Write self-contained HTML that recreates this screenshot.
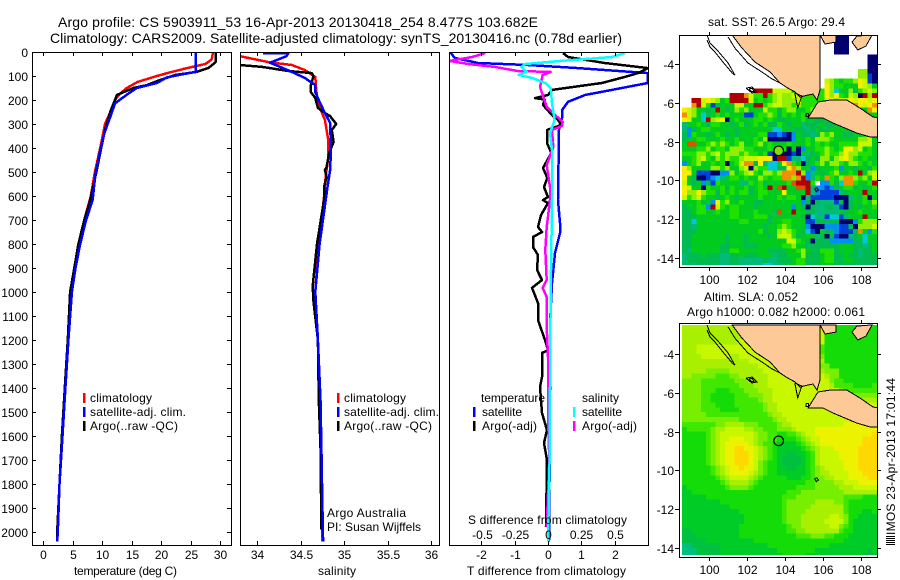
<!DOCTYPE html>
<html>
<head>
<meta charset="utf-8">
<title>Argo profile</title>
<style>
html,body{margin:0;padding:0;background:#fff;width:900px;height:580px;overflow:hidden}
svg{display:block}
text{font-family:"Liberation Sans",sans-serif;font-size:12px;fill:#000}
</style>
</head>
<body>
<svg id="page" xmlns="http://www.w3.org/2000/svg" width="900" height="580" viewBox="0 0 900 580">
<defs>
<clipPath id="clip-p1"><rect x="32" y="52" width="199" height="493"/></clipPath>
<clipPath id="clip-p2"><rect x="240" y="52" width="199" height="493"/></clipPath>
<clipPath id="clip-p3"><rect x="449" y="52" width="199" height="493"/></clipPath>
<clipPath id="clip-m1"><rect x="679" y="35" width="198" height="230"/></clipPath>
<clipPath id="clip-m2"><rect x="679" y="323" width="198" height="232"/></clipPath>
<clipPath id="clip-m1f"><rect x="679" y="35" width="198" height="232"/></clipPath>
<clipPath id="clip-m2f"><rect x="679" y="323" width="198" height="234"/></clipPath>
</defs>
<rect width="900" height="580" fill="#fff"/>
<text x="58" y="27" style="font-size:14px" textLength="480" lengthAdjust="spacing">Argo profile: CS 5903911_53 16-Apr-2013 20130418_254 8.477S 103.682E</text>
<text x="50" y="43" style="font-size:14px" textLength="572" lengthAdjust="spacing">Climatology: CARS2009. Satellite-adjusted climatology: synTS_20130416.nc (0.78d earlier)</text>
<g id="plots"></g>
<g id="maps"></g>

<text x="74" y="575" textLength="103" lengthAdjust="spacing">temperature (deg C)</text>
<text x="318" y="575" textLength="38" lengthAdjust="spacing">salinity</text>
<text x="467" y="575" textLength="159" lengthAdjust="spacing">T difference from climatology</text>
<text x="468" y="524" textLength="159" lengthAdjust="spacing">S difference from climatology</text>

<g>
<rect x="83" y="393" width="2.5" height="10" fill="#ff0000"/>
<rect x="83" y="407" width="2.5" height="10" fill="#0000ff"/>
<rect x="83" y="421" width="2.5" height="10" fill="#000"/>
<text x="90" y="402" textLength="62" lengthAdjust="spacing">climatology</text>
<text x="90" y="416" textLength="96" lengthAdjust="spacing">satellite-adj. clim.</text>
<text x="90" y="430" textLength="88" lengthAdjust="spacing">Argo(..raw -QC)</text>
</g>
<g>
<rect x="337" y="393" width="2.5" height="10" fill="#ff0000"/>
<rect x="337" y="407" width="2.5" height="10" fill="#0000ff"/>
<rect x="337" y="421" width="2.5" height="10" fill="#000"/>
<text x="344" y="402" textLength="62" lengthAdjust="spacing">climatology</text>
<text x="344" y="416" textLength="95" lengthAdjust="spacing">satellite-adj. clim.</text>
<text x="344" y="430" textLength="88" lengthAdjust="spacing">Argo(..raw -QC)</text>
<text x="327" y="517" textLength="79" lengthAdjust="spacing">Argo Australia</text>
<text x="327" y="531" textLength="94" lengthAdjust="spacing">PI: Susan Wijffels</text>
</g>
<g>
<text x="481" y="402" textLength="64" lengthAdjust="spacing">temperature</text>
<text x="582" y="402" textLength="37" lengthAdjust="spacing">salinity</text>
<rect x="473" y="407" width="2.5" height="10" fill="#0000ff"/>
<rect x="473" y="421" width="2.5" height="10" fill="#000"/>
<rect x="573" y="407" width="2.5" height="10" fill="#00ffff"/>
<rect x="573" y="421" width="2.5" height="10" fill="#ff00ff"/>
<text x="482" y="416" textLength="40" lengthAdjust="spacing">satellite</text>
<text x="482" y="430" textLength="55" lengthAdjust="spacing">Argo(-adj)</text>
<text x="582" y="416" textLength="40" lengthAdjust="spacing">satellite</text>
<text x="582" y="430" textLength="55" lengthAdjust="spacing">Argo(-adj)</text>
</g>

<text x="708" y="26" textLength="137" lengthAdjust="spacing">sat. SST: 26.5 Argo: 29.4</text>
<text x="704" y="301" textLength="94" lengthAdjust="spacing">Altim. SLA: 0.052</text>
<text x="687" y="316" textLength="178" lengthAdjust="spacing">Argo h1000: 0.082 h2000: 0.061</text>
<g stroke="#000" stroke-width="1" shape-rendering="crispEdges">
<path d="M886 536.5H895M886 538.5H895M886 540.5H895M886 542.5H895M886 544.5H895" fill="none"/>
</g>
<text transform="translate(895 535) rotate(-90)" x="0" y="0" textLength="157" lengthAdjust="spacing">IMOS 23-Apr-2013 17:01:44</text>
</svg>

<script>
/* ---------- axis tick values ---------- */
const depthTicks = [0,100,200,300,400,500,600,700,800,900,1000,1100,1200,1300,1400,1500,1600,1700,1800,1900,2000];
const tempTicks = [0,5,10,15,20,25,30];
const salTicks = [34,34.5,35,35.5,36];
const tDiffTicks = [-2,-1,0,1,2];
const sDiffTicks = [-0.5,-0.25,0,0.25,0.5];
const lonTicks = [100,102,104,106,108];
const latTicks = [-4,-6,-8,-10,-12,-14];

/* ---------- temperature panel ---------- */
const tempClimDepth = [0,20,33,50,67,85,100,125,150,175,200,250,300,400,500,600,700,800,900,1000,1200,1400,1600,1800,2000,2040];
const tempClim = [28.8,28.7,28.5,27.5,24.4,21.5,19.3,16,14.2,13,12.2,11.4,10.5,9.7,8.8,8.1,7,6.1,5.4,4.8,4.3,3.8,3.3,2.8,2.5,2.4];
const tempSatDepth = [0,83,92,106,129,150,178,214,270,338,422,505,617,700,800,900,1000,1200,1400,1600,1800,2000,2040];
const tempSat = [25.9,25.9,23.8,21,19.3,15.9,14.2,12.2,11.4,10.4,9.6,8.9,8.4,7.3,6.3,5.5,4.9,4.3,3.8,3.3,2.8,2.5,2.4];
const tempArgoDepth = [0,40,46,67,83,96,117,138,150,179,200,242,325,408,505,617,700,800,900,1000,1200,1400,1600,1800,2000,2040];
const tempArgo = [29.3,29.3,29.1,28,26,22.4,19.8,17.6,15.3,12.5,12.2,11.5,10.5,9.8,9,8,7,6,5.3,4.6,4.2,3.7,3.2,2.8,2.4,2.4];

/* ---------- salinity panel ---------- */
const salClimDepth = [17,42,54,75,104,158,213,283,367,437,520,604,800,1000,1200,1450,1650,1870,2040];
const salClim = [33.8,34.13,34.4,34.55,34.67,34.68,34.7,34.78,34.82,34.82,34.79,34.77,34.71,34.67,34.7,34.71,34.735,34.75,34.75];
const salSatDepth = [4,4,17,45,58,83,108,138,167,208,254,296,408,492,563,617,800,1000,1200,1450,1650,1870,2040];
const salSat = [34.07,34.36,34.34,34.15,34.24,34.4,34.55,34.67,34.67,34.72,34.78,34.84,34.85,34.84,34.81,34.79,34.72,34.67,34.7,34.73,34.74,34.75,34.76];
const salArgoDepth = [54,62,79,88,100,138,167,192,233,254,267,300,325,375,421,479,492,520,563,617,800,975,1040,1200,1450,1650,1990];
const salArgo = [33.8,34.06,34.36,34.63,34.65,34.62,34.62,34.67,34.7,34.78,34.84,34.91,34.86,34.88,34.83,34.8,34.78,34.8,34.77,34.77,34.69,34.64,34.65,34.7,34.71,34.73,34.74];

/* ---------- difference panel ---------- */
const tDiffSatDepth = [0,25,46,54,67,88,129,158,179,208,242,275,325,617,713,754,838,963,1129,1271,1408,1700,2040];
const tDiffSat = [-2.94,-2.8,-2.1,-0.6,0.9,3,3,1.92,1.11,0.6,0.42,0.42,0.33,0.3,0.36,0.36,0.21,0.12,0.06,0.06,0.06,0.05,0.03];
const tDiffArgoDepth = [4,21,46,67,88,104,129,158,179,192,198,221,263,283,304,325,379,421,483,525,563,604,617,629,679,729,750,771,813,846,908,950,983,1046,1117,1200,1242,1254,1354,1396,1504,1575,1629,1700,1979];
const tDiffArgo = [0.45,0.6,1.7,3,2.7,2.3,1.62,0.12,0,-0.39,-0.1,-0.15,0.12,0.3,0.4,-0.03,-0.03,0.1,-0.15,-0.02,-0.12,0,-0.15,0,-0.21,-0.3,-0.18,-0.45,-0.45,-0.3,-0.33,-0.18,-0.48,-0.3,-0.3,-0.09,0,-0.18,-0.18,-0.24,-0.18,-0.03,-0.12,-0.03,-0.06];
const sDiffSatDepth = [4,21,37,50,62,83,96,108,129,150,213,283,338,408,617,1000,1400,1700,2040];
const sDiffSat = [0.58,0.48,0.1,-0.17,-0.2,-0.16,-0.22,-0.12,-0.02,0.02,0.03,0.05,0.015,0.03,0.03,0.02,0.015,0.012,0];
const sDiffArgoDepth = [4,21,37,50,62,79,83,96,146,179,229,250,292,308,325,396,471,563,617,729,825,950,983,1021,1146,1271,1500,1700,1980];
const sDiffArgo = [-0.47,-0.57,-0.74,-0.6,-0.4,-0.23,0.02,-0.04,-0.06,-0.04,-0.01,0.03,0.11,0.105,0.03,0.04,-0.01,0.015,0.015,-0.01,-0.02,-0.01,-0.04,-0.01,-0.01,0,0,0.01,-0.01];

/* ---------- SST grid: one character per cell, '.' = no data, 0-d = colour level ---------- */
const sstRows = [
".......... .......... .......... ..000..... .",
".......... .......... .......... ..000..... .",
".......... .......... .......... ..000..... .",
".......... .......... .......... ..000..... .",
".......... .......... .......... .........0 0",
".......... .......... .......... .........0 0",
".......... .......... .......... .........0 0",
".......... .......... .......... .......880 0",
".......... .......... .......... .......881 0",
".......... .......... .......... 9876778a91 0",
".......... .......... .......... a877666a98 6",
".......... .....dddd9 9997777777 a836685789 8",
".......... dddb977d78 9889977777 a8a76980d8 d",
"..dd9a9867 dddd967678 9888977777 9a899a9aa9 a",
"..bd971566 69966dd789 9887877777 9a9a99ba9a b",
"a986656d65 6878666977 5788667877 776666666b a",
"b986356767 6661167787 5767676766 6666666666 6",
"a9663d89a0 6766677676 5566676655 6666666666 6",
"4667657766 5675676755 7656645556 5566666666 6",
"4256776666 6566666663 3665554565 5666666666 6",
"5276656765 6566667711 2102655458 7866556677 7",
"5667766676 6766676800 0002667688 8766666889 6",
"6cc6678787 6786678676 6676667676 7667777999 6",
"6667786776 8887766676 6706026677 8767aa8967 6",
"7778878978 8878776710 0001064567 8778a88777 6",
"6678976878 778999aaa0 dd14435658 8689a87676 6",
"2678667670 679bb5a433 6ab7605678 6887688767 6",
"a866668878 6689087733 55ab866256 6672665665 7",
"aa61110022 8678976887 8bbbd82465 6786676d68 9",
"a650012346 7767668767 7bb8bd2476 b768bb8786 9",
"9656251766 6644767566 667cddd7.2 2753bb7667 d",
"a966076675 76675676d6 cd66ccd422 1256775656 7",
"a88a877576 7677567766 6a6666d421 11145666d6 6",
"9789766567 6566667666 7677604111 1100046570 6",
"6667562a78 6676655666 6666625054 4415056676 8",
"566772d976 7766656666 6662650544 5541056566 7",
"5567766766 7766676665 c66d665544 4446566766 6",
"5556666666 7766677756 6666650344 13314666d6 6",
"5536666666 6677666656 6776661155 5550002788 8",
"5546666666 6666666566 7876662000 2221150888 9",
"5556666666 6666667566 8987653106 5521115b62 7",
"5566666665 6665666656 9997566645 0510045636 6",
"5566666665 6665666666 6699765055 5222225536 6",
"5566666655 6665556666 6778665555 5556665545 6",
"5466666655 7766666655 5566786557 7756665455 6",
"4555655544 5565556664 5566685556 7755655455 5",
"4555555544 5544444544 5556775556 7755665555 5",
"5545555544 5544444334 4566775556 6655555555 5"
];

/* ---------- sea-level anomaly grid: 0 (low) ... 9 (high) ---------- */
const slaRows = [
"6666666666 6666677777 7777777777 3333333333 3",
"6666666666 6666677777 7777777777 3333333333 3",
"6666666666 6667777777 7777777777 3333333333 3",
"6666666666 6677777777 7777777777 3333333333 3",
"6667777777 7777777777 7777777774 3333333333 3",
"6667777777 7777777777 7777777774 3333333333 3",
"6666777777 6677777777 7777777775 3333333333 3",
"6666666666 6666777777 7777777776 3333333333 3",
"6666666666 6666667777 7777777775 5333333333 3",
"6666655555 6666666777 7777777776 5553333333 3",
"6655555444 5566666677 7777777777 6553333333 3",
"5555444444 4555666677 7777777777 7544333333 3",
"5555444444 4455566677 7777777777 7644443333 4",
"5555444333 4445556667 7777777777 7775444444 4",
"5555443333 3444555667 7777777777 7776555555 5",
"5555443333 3444445667 7777777777 7777766666 6",
"5555444333 3444444566 7777777777 7777777777 7",
"5555444433 3344444566 7777777777 7777777777 7",
"5555544444 4444444456 6777777777 7777777777 7",
"5555555555 5544444445 6677777777 7777777777 8",
"4444444556 6665554444 5667777777 7777888888 8",
"3444445667 7776655444 5556777788 8888888888 8",
"3333345677 7777765544 3344567788 8888888888 9",
"3333345677 8887765544 3333456778 8888888899 9",
"3333345678 8888765443 2222345678 8888888899 9",
"3333345678 8998876543 2222234567 7788888999 9",
"3333345678 8999876543 2211223467 7778888999 9",
"3333345678 8999876543 2111123467 7778888999 9",
"3333345678 8999875433 2111123467 7777888999 9",
"3333334567 8898875433 2211223456 7777888999 9",
"3333334567 8888765433 2222223456 6777788899 9",
"3333333456 7777654333 3322233455 6677788889 9",
"3333333345 6666543333 3333334455 5566777888 8",
"2333333334 5555433333 3333444455 5556667777 7",
"2233333333 3333333333 3344455555 5555666666 6",
"2222233333 3333333333 3444555555 5555444433 3",
"2222222233 3333333333 3455555566 6655433333 3",
"2222222222 3333333333 3455555666 6666433333 3",
"2222222222 2233333333 3455556666 6666433322 3",
"2222222222 2223333333 3455566666 6776533222 2",
"2222222222 2223333333 3455566666 7777532222 2",
"2222222222 2233333333 3345566666 6775432222 2",
"1122222222 2233333333 3344556666 6664332222 2",
"1112222222 2233333333 3333444555 4433322222 2",
"1111122222 2222233333 3333333333 3333222222 2",
"0011111122 2222222233 3333333333 3222222222 2",
"0001111122 2222222222 3333333322 2222222221 2",
"0001111122 2222222222 2333332222 2222222211 1"
];

/* ---------- geography (longitude, latitude) ---------- */
const sumatraLon = [101.23,101.75,102.44,103.23,103.75,104.17,104.54,104.81,105.23,105.49,105.7,105.86,105.86];
const sumatraLat = [-2.5,-3.18,-3.9,-4.41,-4.98,-5.24,-5.44,-5.7,-5.6,-5.55,-5.86,-5.34,-2.5];
const javaLon = [105.75,106.38,107.28,107.96,108.65,108.9,108.9,108.49,107.8,106.54,106.01,105.23];
const javaLat = [-5.96,-5.86,-5.86,-6.27,-6.73,-6.78,-7.76,-7.76,-7.56,-7.04,-6.78,-6.78];
const bangkaLon = [105.86,106.12,106.7,106.7];
const bangkaLat = [-2.5,-2.97,-2.87,-2.5];
const belitungLon = [107.54,107.8,108.6,108.28,107.85];
const belitungLat = [-2.87,-2.56,-2.5,-3.07,-3.28];
const mentawaiLon = [99.91,100.07,100.44,100.75,101.02,101.38,101.23,100.75,100.33,100.07,99.91];
const mentawaiLat = [-2.5,-2.92,-3.28,-3.64,-3.95,-4.57,-4.46,-3.9,-3.38,-3.12,-2.76];
const shelfLon = [101.02,101.38,102.07,102.8,103.33,103.75];
const shelfLat = [-2.61,-3.18,-3.95,-4.41,-4.77,-4.98];
const enggano1Lon = [101.96,102.28,102.54,102.28,101.96];
const enggano1Lat = [-5.24,-5.19,-5.44,-5.49,-5.24];
const enggano2Lon = [102.12,102.28,102.4,102.24,102.12];
const enggano2Lat = [-5.28,-5.27,-5.4,-5.42,-5.28];
const straitLon = [104.53,104.69,104.9,104.53];
const straitLat = [-5.49,-6.27,-5.65,-5.49];
const christmasLon = [105.58,105.7,105.78,105.66,105.58];
const christmasLat = [-10.42,-10.38,-10.5,-10.58,-10.42];
const krakatoaLon = [105.12,105.24,105.24,105.12,105.12];
const krakatoaLat = [-6.55,-6.55,-6.7,-6.7,-6.55];
const probeLon = [103.682];
const probeLat = [-8.477];

/* ---------- colour scales ---------- */
const sstPalette = {'0':'#00006e','1':'#0040d8','2':'#0090f0','3':'#00c8d8','4':'#00bc78','5':'#00bc50','6':'#00cc20','7':'#20e000','8':'#90ee00','9':'#c8f800','a':'#f8ee00','b':'#f09000','c':'#e05000','d':'#b00000'};
const slaPalette = {'0':'#00c080','1':'#00c040','2':'#00cc28','3':'#14dc08','4':'#40e800','5':'#78ee00','6':'#a8f000','7':'#c8f800','8':'#ecf200','9':'#ffd800'};

/* ---------- axis functions ---------- */
const depthY = function (d) { return 52 + d * 0.24; };
const tempX = function (t) { return 43 + t * 5.9; };
const salX = function (s) { return 257 + (s - 34) * 87; };
const tDiffX = function (v) { return 548 + v * 33.3; };
const sDiffX = function (v) { return 548 + v * 133; };
const lonX = function (lon) { return 708.7 + (lon - 100) * 19; };
const latY1 = function (lat) { return 64 + (-4 - lat) * 19.4; };
const latY2 = function (lat) { return 354 + (-4 - lat) * 19.4; };

const NS = 'http://www.w3.org/2000/svg';
function mk(tag, parent, attrs) {
  const el = document.createElementNS(NS, tag);
  for (const k in attrs) el.setAttribute(k, attrs[k]);
  parent.appendChild(el);
  return el;
}
function frame(parent, x, y, w, h, name) {
  const el = mk('rect', parent, {x: x + 0.5, y: y + 0.5, width: w, height: h, fill: 'none', stroke: '#000', 'stroke-width': 1, 'shape-rendering': 'crispEdges'});
  
  
  return el;
}
function tick(parent, x1, y1, x2, y2) {
  const el = mk('line', parent, {x1: x1, y1: y1, x2: x2, y2: y2, stroke: '#000', 'stroke-width': 1, 'shape-rendering': 'crispEdges'});
  
  
}
function label(parent, x, y, str, anchor) {
  const el = mk('text', parent, {x: x, y: y, 'text-anchor': anchor});
  el.textContent = str;
  
  
}
function series(parent, xs, ys, color, width, clip, name) {
  const pts = xs.map(function (x, i) { return x.toFixed(1) + ',' + ys[i].toFixed(1); }).join(' ');
  const el = mk('polyline', parent, {points: pts, fill: 'none', stroke: color, 'stroke-width': width, 'stroke-linejoin': 'round', 'clip-path': 'url(#' + clip + ')', 'shape-rendering': 'crispEdges'});
  
  
}

/* ---------- profile panels ---------- */
const plots = document.getElementById('plots');
const panelLefts = [32, 240, 449];
const panelNames = ['temperature-panel-frame', 'salinity-panel-frame', 'difference-panel-frame'];

series(plots, tempClim.map(tempX), tempClimDepth.map(depthY), '#ff0000', 2.5, 'clip-p1', 'temperature-climatology-line');
series(plots, tempArgo.map(tempX), tempArgoDepth.map(depthY), '#000', 2.5, 'clip-p1', 'temperature-argo-line');
series(plots, tempSat.map(tempX), tempSatDepth.map(depthY), '#0000ff', 2.5, 'clip-p1', 'temperature-satellite-line');

series(plots, salClim.map(salX), salClimDepth.map(depthY), '#ff0000', 2.5, 'clip-p2', 'salinity-climatology-line');
series(plots, salArgo.map(salX), salArgoDepth.map(depthY), '#000', 2.5, 'clip-p2', 'salinity-argo-line');
series(plots, salSat.map(salX), salSatDepth.map(depthY), '#0000ff', 2.5, 'clip-p2', 'salinity-satellite-line');

series(plots, tDiffSat.map(tDiffX), tDiffSatDepth.map(depthY), '#0000ff', 2.5, 'clip-p3', 'difference-t-satellite-line');
series(plots, tDiffArgo.map(tDiffX), tDiffArgoDepth.map(depthY), '#000', 2.5, 'clip-p3', 'difference-t-argo-line');
series(plots, sDiffArgo.map(sDiffX), sDiffArgoDepth.map(depthY), '#ff00ff', 2.5, 'clip-p3', 'difference-s-argo-line');
series(plots, sDiffSat.map(sDiffX), sDiffSatDepth.map(depthY), '#00ffff', 2.5, 'clip-p3', 'difference-s-satellite-line');

panelLefts.forEach(function (x, i) { frame(plots, x, 52, 199, 493, panelNames[i]); });

depthTicks.forEach(function (d) {
  const y = Math.round(depthY(d)) + 0.5;
  tick(plots, 32, y, 36, y);
  tick(plots, 227, y, 231, y);
  label(plots, 28, y + 4.5, String(d), 'end');
});
function xTicks(values, fn, fmt, labelY) {
  values.forEach(function (v) {
    const x = Math.round(fn(v)) + 0.5;
    tick(plots, x, 52, x, 56);
    tick(plots, x, 541, x, 545);
    if (labelY) label(plots, x, labelY, fmt(v), 'middle');
  });
}
xTicks(tempTicks, tempX, String, 559);
xTicks(salTicks, salX, String, 559);
xTicks(tDiffTicks, tDiffX, String, 559);
sDiffTicks.forEach(function (v) {
  label(plots, Math.round(sDiffX(v)) + 0.5, 539, String(v), 'middle');
});

/* ---------- maps ---------- */
const maps = document.getElementById('maps');
function heatmap(rows, palette, latY, clip, name) {
  const g = mk('g', maps, {'clip-path': 'url(#' + clip + ')', 'shape-rendering': 'crispEdges'});
  
  
  rows.forEach(function (row, r) {
    const chars = row.replace(/ /g, '');
    const y0 = latY(-2.5 - 0.25 * r);
    const y1 = latY(-2.5 - 0.25 * (r + 1));
    for (let c = 0; c < chars.length; c++) {
      const ch = chars[c];
      if (ch === '.') continue;
      const x0 = lonX(98.6 + 0.25 * c);
      const x1 = lonX(98.6 + 0.25 * (c + 1));
      const cell = mk('rect', g, {x: x0.toFixed(2), y: y0.toFixed(2), width: (x1 - x0 + 0.4).toFixed(2), height: (y1 - y0 + 0.4).toFixed(2), fill: palette[ch]});
      
      
    }
  });
}
function land(lons, lats, latY, clip, name) {
  const pts = lons.map(function (lon, i) { return lonX(lon).toFixed(1) + ',' + latY(lats[i]).toFixed(1); }).join(' ');
  const el = mk('polygon', maps, {points: pts, fill: '#fdc996', stroke: '#000', 'stroke-width': 1, 'clip-path': 'url(#' + clip + ')', 'shape-rendering': 'crispEdges'});
  
  
}
function coast(lons, lats, latY, clip, name) {
  const pts = lons.map(function (lon, i) { return lonX(lon).toFixed(1) + ',' + latY(lats[i]).toFixed(1); }).join(' ');
  const el = mk('polyline', maps, {points: pts, fill: 'none', stroke: '#000', 'stroke-width': 1, 'clip-path': 'url(#' + clip + ')', 'shape-rendering': 'crispEdges'});
  
  
}
function drawMap(rows, palette, latY, clipData, clipFrame, frameY, frameH, probeFill, prefix) {
  heatmap(rows, palette, latY, clipData, prefix + '-heatmap');
  land(sumatraLon, sumatraLat, latY, clipFrame, prefix + '-sumatra-land');
  land(javaLon, javaLat, latY, clipFrame, prefix + '-java-land');
  land(bangkaLon, bangkaLat, latY, clipFrame, prefix + '-bangka-land');
  land(belitungLon, belitungLat, latY, clipFrame, prefix + '-belitung-land');
  coast(mentawaiLon, mentawaiLat, latY, clipFrame, prefix + '-mentawai-coast');
  coast(shelfLon, shelfLat, latY, clipFrame, prefix + '-sumatra-outer-coast');
  coast(enggano1Lon, enggano1Lat, latY, clipFrame, prefix + '-enggano-coast');
  coast(enggano2Lon, enggano2Lat, latY, clipFrame, prefix + '-enggano-inner-coast');
  coast(straitLon, straitLat, latY, clipFrame, prefix + '-strait-coast');
  coast(christmasLon, christmasLat, latY, clipFrame, prefix + '-christmas-island-coast');
  coast(krakatoaLon, krakatoaLat, latY, clipFrame, prefix + '-krakatoa-coast');
  probeLon.forEach(function (lon, i) {
    const marker = mk('circle', maps, {cx: lonX(lon), cy: latY(probeLat[i]), r: 4.8, fill: probeFill, stroke: '#000', 'stroke-width': 1.2});
    
    
  });
  frame(maps, 679, frameY, 198, frameH, prefix + '-map-frame');
  const bottom = frameY + frameH;
  lonTicks.forEach(function (lon) {
    const x = Math.round(lonX(lon)) + 0.5;
    tick(maps, x, frameY - 3, x, frameY);
    tick(maps, x, bottom, x, bottom + 4);
    label(maps, x, bottom + 17, String(lon), 'middle');
  });
  latTicks.forEach(function (lat) {
    const y = Math.round(latY(lat)) + 0.5;
    tick(maps, 675, y, 679, y);
    tick(maps, 877, y, 881, y);
    label(maps, 674, y + 4.5, String(lat), 'end');
  });
}
drawMap(sstRows, sstPalette, latY1, 'clip-m1', 'clip-m1f', 35, 232, '#80e000', 'sst');
drawMap(slaRows, slaPalette, latY2, 'clip-m2', 'clip-m2f', 323, 234, 'none', 'sla');
</script>
</body>
</html>
